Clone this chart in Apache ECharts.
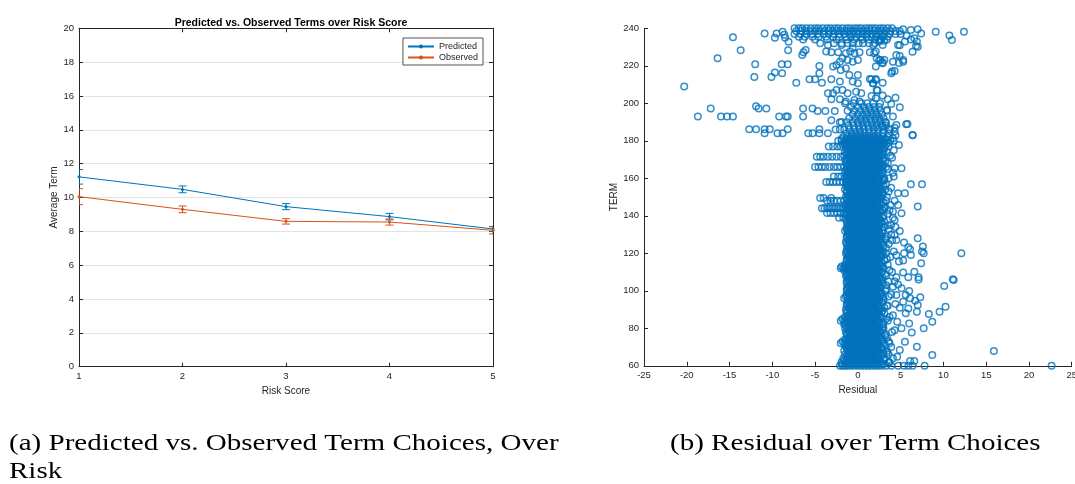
<!DOCTYPE html>
<html>
<head>
<meta charset="utf-8">
<title>Term choices over risk score, and residuals over term</title>
<script src="https://cdn.jsdelivr.net/npm/echarts/dist/echarts.min.js"></script>
<style>
  html, body { margin: 0; padding: 0; background: #fff; }
  #chart { width: 1075px; height: 484px; }
</style>
</head>
<body>
<div id="chart"></div>
<script>
// ---- (a) average term by risk score ----
const riskScores = [1, 2, 3, 4, 5];
const predictedTerm = [11.22, 10.48, 9.46, 8.87, 8.14];
const predictedErr = [0.43, 0.20, 0.18, 0.19, 0.15];
const observedTerm = [10.05, 9.30, 8.59, 8.55, 8.06];
const observedErr = [0.47, 0.20, 0.16, 0.18, 0.21];

// ---- (b) residual vs. TERM ----
// Rows are [TERM, residual, residual, ...] for terms with many loans.
const coreRows = [
  [60, -2.1,-1.8,-1.5,-1.2,-0.8,-0.4,0,0.4,0.8,1.2,1.6,2.0,2.4,2.8,3.3,3.9],
  [62, -1.9,-1.4,-1.0,-0.6,-0.2,0.2,0.6,1.0,1.4,1.8,2.2,2.7,3.6],
  [64, -1.7,-1.2,-0.8,-0.4,0,0.4,0.8,1.2,1.6,2.0,2.4,3.1],
  [66, -1.5,-1.0,-0.6,-0.2,0.2,0.6,1.0,1.4,1.8,2.2,2.9],
  [68, -1.6,-1.2,-0.8,-0.4,0,0.4,0.8,1.2,1.6,2.0,2.4,3.4],
  [70, -1.3,-1.0,-0.6,-0.2,0.2,0.6,1.0,1.4,1.8,2.2,2.7],
  [72, -2.0,-1.6,-1.2,-0.8,-0.4,0,0.4,0.8,1.2,1.6,2.0,2.4,3.0,3.7],
  [74, -1.5,-1.0,-0.6,-0.2,0.2,0.6,1.0,1.4,1.8,2.2,2.8],
  [76, -1.3,-0.8,-0.4,0,0.4,0.8,1.2,1.6,2.0,2.4,3.2],
  [78, -1.4,-1.0,-0.6,-0.2,0.2,0.6,1.0,1.4,1.8,2.2,2.6],
  [80, -1.5,-1.2,-0.8,-0.4,0,0.4,0.8,1.2,1.6,2.0,2.4,3.0],
  [82, -1.6,-1.0,-0.6,-0.2,0.2,0.6,1.0,1.4,1.8,2.2,2.9],
  [84, -2.0,-1.6,-1.2,-0.8,-0.4,0,0.4,0.8,1.2,1.6,2.0,2.4,3.5],
  [86, -1.5,-1.0,-0.6,-0.2,0.2,0.6,1.0,1.4,1.8,2.2,2.7],
  [88, -1.3,-0.8,-0.4,0,0.4,0.8,1.2,1.6,2.0,2.4,3.1],
  [90, -1.4,-1.0,-0.6,-0.2,0.2,0.6,1.0,1.4,1.8,2.2,2.6],
  [92, -1.3,-0.8,-0.4,0,0.4,0.8,1.2,1.6,2.0,2.4,3.4],
  [94, -1.2,-1.0,-0.6,-0.2,0.2,0.6,1.0,1.4,1.8,2.2,2.8],
  [96, -1.6,-1.2,-0.8,-0.4,0,0.4,0.8,1.2,1.6,2.0,2.4,3.0],
  [98, -1.3,-1.0,-0.6,-0.2,0.2,0.6,1.0,1.4,1.8,2.2,2.7],
  [100, -1.3,-0.8,-0.4,0,0.4,0.8,1.2,1.6,2.0,2.4,3.2],
  [102, -1.2,-1.0,-0.6,-0.2,0.2,0.6,1.0,1.4,1.8,2.2,2.6],
  [104, -1.3,-0.8,-0.4,0,0.4,0.8,1.2,1.6,2.0,2.4,2.9],
  [106, -1.2,-1.0,-0.6,-0.2,0.2,0.6,1.0,1.4,1.8,2.2,2.7],
  [108, -1.4,-1.2,-0.8,-0.4,0,0.4,0.8,1.2,1.6,2.0,2.4,3.3],
  [110, -1.3,-1.0,-0.6,-0.2,0.2,0.6,1.0,1.4,1.8,2.2,2.8],
  [112, -2.0,-1.7,-1.4,-1.2,-0.8,-0.4,0,0.4,0.8,1.2,1.6,2.0,2.4,3.0],
  [114, -1.5,-1.0,-0.6,-0.2,0.2,0.6,1.0,1.4,1.8,2.2,2.6],
  [116, -1.3,-0.8,-0.4,0,0.4,0.8,1.2,1.6,2.0,2.4,3.1],
  [118, -1.2,-1.0,-0.6,-0.2,0.2,0.6,1.0,1.4,1.8,2.2,2.7],
  [120, -1.4,-1.2,-0.8,-0.4,0,0.4,0.8,1.2,1.6,2.0,2.4,2.8,3.3],
  [122, -1.3,-1.0,-0.6,-0.2,0.2,0.6,1.0,1.4,1.8,2.2,2.6],
  [124, -1.2,-0.8,-0.4,0,0.4,0.8,1.2,1.6,2.0,2.4,3.0],
  [126, -1.4,-1.0,-0.6,-0.2,0.2,0.6,1.0,1.4,1.8,2.2,2.7],
  [128, -1.3,-0.8,-0.4,0,0.4,0.8,1.2,1.6,2.0,2.4,3.2],
  [130, -1.2,-1.0,-0.6,-0.2,0.2,0.6,1.0,1.4,1.8,2.2,2.6],
  [132, -1.5,-1.2,-0.8,-0.4,0,0.4,0.8,1.2,1.6,2.0,2.4,2.9],
  [134, -1.3,-1.0,-0.6,-0.2,0.2,0.6,1.0,1.4,1.8,2.2,3.1],
  [136, -1.2,-0.8,-0.4,0,0.4,0.8,1.2,1.6,2.0,2.4,2.8],
  [138, -1.4,-1.0,-0.6,-0.2,0.2,0.6,1.0,1.4,1.8,2.2,2.6],
  [139, -2.2,-1.7],
  [140, -1.3,-0.8,-0.4,0,0.4,0.8,1.2,1.6,2.0,2.4,3.0],
  [141.5, -3.6,-3.2,-2.8,-2.4,-2.0,-1.6],
  [142, -1.4,-1.0,-0.6,-0.2,0.2,0.6,1.0,1.4,1.8,2.2,2.7],
  [144, -4.2,-3.9,-3.6,-3.3,-3.0,-2.7,-2.4,-2.1,-1.8,-1.5,-1.2,-0.8,-0.4,0,0.4,0.8,1.2,1.6,2.0,2.4,3.1],
  [146, -1.5,-1.0,-0.6,-0.2,0.2,0.6,1.0,1.4,1.8,2.2,2.8],
  [148, -3.6,-3.2,-2.8,-2.4,-2.0,-1.6,-1.2,-0.8,-0.4,0,0.4,0.8,1.2,1.6,2.0,2.4,3.3],
  [149.5, -4.4,-4.0,-3.1],
  [150, -1.4,-1.0,-0.6,-0.2,0.2,0.6,1.0,1.4,1.8,2.2,2.6],
  [152, -1.3,-0.8,-0.4,0,0.4,0.8,1.2,1.6,2.0,2.4,2.9],
  [154, -1.5,-1.0,-0.6,-0.2,0.2,0.6,1.0,1.4,1.8,2.2,2.7,3.2],
  [156, -1.4,-1.2,-0.8,-0.4,0,0.4,0.8,1.2,1.6,2.0,2.4,3.0],
  [158, -3.7,-3.3,-2.9,-2.5,-2.1,-1.7,-1.4,-1.0,-0.6,-0.2,0.2,0.6,1.0,1.4,1.8,2.2,2.8],
  [160, -1.5,-1.2,-0.8,-0.4,0,0.4,0.8,1.2,1.6,2.0,2.4,3.1],
  [161, -2.8,-2.3,-1.9],
  [162, -1.4,-1.0,-0.6,-0.2,0.2,0.6,1.0,1.4,1.8,2.2,2.7],
  [164, -1.5,-1.2,-0.8,-0.4,0,0.4,0.8,1.2,1.6,2.0,2.4,2.9],
  [166, -5.0,-4.6,-4.2,-3.8,-3.3,-2.8,-2.4,-2.0,-1.6,-1.2,-0.8,-0.4,0,0.4,0.8,1.2,1.6,2.0,2.4,2.8,3.3],
  [168, -1.4,-1.0,-0.6,-0.2,0.2,0.6,1.0,1.4,1.8,2.2,2.6],
  [170, -1.5,-1.2,-0.8,-0.4,0,0.4,0.8,1.2,1.6,2.0,2.4,3.0],
  [171.5, -4.8,-4.4,-4.0,-3.5,-3.0,-2.5,-2.0],
  [172, -1.6,-1.0,-0.6,-0.2,0.2,0.6,1.0,1.4,1.8,2.2,2.7],
  [174, -1.5,-1.2,-0.8,-0.4,0,0.4,0.8,1.2,1.6,2.0,2.4,2.9,3.4],
  [176, -1.4,-1.0,-0.6,-0.2,0.2,0.6,1.0,1.4,1.8,2.2,2.6,3.1],
  [177, -3.4,-2.9,-2.4,-2.0],
  [178, -1.8,-1.5,-1.2,-0.8,-0.4,0,0.4,0.8,1.2,1.6,2.0,2.4,2.8,3.3],
  [180, -2.3,-1.9,-1.5,-1.1,-0.7,-0.3,0.1,0.5,0.9,1.3,1.7,2.1,2.5,2.9,3.3,3.8,4.2],
  [182, -1.7,-1.2,-0.8,-0.4,0,0.4,0.8,1.2,1.6,2.0,2.4,2.9,3.5]
];

// Loans at the in-between terms of the same dense column.
const coreOddRows = [
  [61, -1.9,-1.3,-0.9,-0.5,-0.1,0.3,0.7,1.1,1.5,1.9,2.3,3.0],
  [63, -1.6,-1.1,-0.7,-0.3,0.1,0.5,0.9,1.3,1.7,2.1,2.5],
  [65, -1.3,-0.9,-0.5,-0.1,0.3,0.7,1.1,1.5,1.9,2.3],
  [67, -1.1,-0.7,-0.3,0.1,0.5,0.9,1.3,1.7,2.1,2.5,3.0],
  [69, -1.3,-0.9,-0.5,-0.1,0.3,0.7,1.1,1.5,1.9,2.3],
  [71, -1.5,-1.1,-0.7,-0.3,0.1,0.5,0.9,1.3,1.7,2.1,2.5],
  [73, -1.8,-1.3,-0.9,-0.5,-0.1,0.3,0.7,1.1,1.5,1.9,2.3,2.8],
  [75, -1.1,-0.7,-0.3,0.1,0.5,0.9,1.3,1.7,2.1,2.5],
  [77, -1.3,-0.9,-0.5,-0.1,0.3,0.7,1.1,1.5,1.9,2.3],
  [79, -1.1,-0.7,-0.3,0.1,0.5,0.9,1.3,1.7,2.1,2.5,2.9],
  [81, -1.3,-0.9,-0.5,-0.1,0.3,0.7,1.1,1.5,1.9,2.3],
  [83, -1.5,-1.1,-0.7,-0.3,0.1,0.5,0.9,1.3,1.7,2.1,2.5],
  [85, -1.8,-1.3,-0.9,-0.5,-0.1,0.3,0.7,1.1,1.5,1.9,2.3],
  [87, -1.1,-0.7,-0.3,0.1,0.5,0.9,1.3,1.7,2.1,2.5],
  [89, -1.3,-0.9,-0.5,-0.1,0.3,0.7,1.1,1.5,1.9,2.3,2.8],
  [91, -1.1,-0.7,-0.3,0.1,0.5,0.9,1.3,1.7,2.1,2.5],
  [93, -1.3,-0.9,-0.5,-0.1,0.3,0.7,1.1,1.5,1.9,2.3],
  [95, -1.1,-0.7,-0.3,0.1,0.5,0.9,1.3,1.7,2.1,2.5],
  [97, -1.4,-0.9,-0.5,-0.1,0.3,0.7,1.1,1.5,1.9,2.3,2.9],
  [99, -1.1,-0.7,-0.3,0.1,0.5,0.9,1.3,1.7,2.1,2.5],
  [101, -1.3,-0.9,-0.5,-0.1,0.3,0.7,1.1,1.5,1.9,2.3],
  [103, -1.1,-0.7,-0.3,0.1,0.5,0.9,1.3,1.7,2.1,2.5],
  [105, -1.3,-0.9,-0.5,-0.1,0.3,0.7,1.1,1.5,1.9,2.3,2.8],
  [107, -1.1,-0.7,-0.3,0.1,0.5,0.9,1.3,1.7,2.1,2.5],
  [109, -1.3,-0.9,-0.5,-0.1,0.3,0.7,1.1,1.5,1.9,2.3],
  [111, -1.6,-1.1,-0.7,-0.3,0.1,0.5,0.9,1.3,1.7,2.1,2.5],
  [113, -1.9,-1.5,-0.9,-0.5,-0.1,0.3,0.7,1.1,1.5,1.9,2.3,2.7],
  [115, -1.1,-0.7,-0.3,0.1,0.5,0.9,1.3,1.7,2.1,2.5],
  [117, -1.3,-0.9,-0.5,-0.1,0.3,0.7,1.1,1.5,1.9,2.3],
  [119, -1.1,-0.7,-0.3,0.1,0.5,0.9,1.3,1.7,2.1,2.5,2.9],
  [121, -1.3,-0.9,-0.5,-0.1,0.3,0.7,1.1,1.5,1.9,2.3,2.7],
  [123, -1.1,-0.7,-0.3,0.1,0.5,0.9,1.3,1.7,2.1,2.5],
  [125, -1.3,-0.9,-0.5,-0.1,0.3,0.7,1.1,1.5,1.9,2.3],
  [127, -1.1,-0.7,-0.3,0.1,0.5,0.9,1.3,1.7,2.1,2.5],
  [129, -1.3,-0.9,-0.5,-0.1,0.3,0.7,1.1,1.5,1.9,2.3,2.8],
  [131, -1.1,-0.7,-0.3,0.1,0.5,0.9,1.3,1.7,2.1,2.5],
  [133, -1.3,-0.9,-0.5,-0.1,0.3,0.7,1.1,1.5,1.9,2.3],
  [135, -1.1,-0.7,-0.3,0.1,0.5,0.9,1.3,1.7,2.1,2.5],
  [137, -1.3,-0.9,-0.5,-0.1,0.3,0.7,1.1,1.5,1.9,2.3,2.7],
  [139, -1.1,-0.7,-0.3,0.1,0.5,0.9,1.3,1.7,2.1,2.5],
  [141, -1.3,-0.9,-0.5,-0.1,0.3,0.7,1.1,1.5,1.9,2.3],
  [143, -1.1,-0.7,-0.3,0.1,0.5,0.9,1.3,1.7,2.1,2.5,2.9],
  [145, -1.3,-0.9,-0.5,-0.1,0.3,0.7,1.1,1.5,1.9,2.3],
  [147, -1.1,-0.7,-0.3,0.1,0.5,0.9,1.3,1.7,2.1,2.5],
  [149, -1.3,-0.9,-0.5,-0.1,0.3,0.7,1.1,1.5,1.9,2.3,2.7],
  [151, -1.1,-0.7,-0.3,0.1,0.5,0.9,1.3,1.7,2.1,2.5],
  [153, -1.3,-0.9,-0.5,-0.1,0.3,0.7,1.1,1.5,1.9,2.3,2.8],
  [155, -1.1,-0.7,-0.3,0.1,0.5,0.9,1.3,1.7,2.1,2.5],
  [157, -1.3,-0.9,-0.5,-0.1,0.3,0.7,1.1,1.5,1.9,2.3],
  [159, -1.1,-0.7,-0.3,0.1,0.5,0.9,1.3,1.7,2.1,2.5,3.0],
  [161, -1.3,-0.9,-0.5,-0.1,0.3,0.7,1.1,1.5,1.9,2.3],
  [163, -1.1,-0.7,-0.3,0.1,0.5,0.9,1.3,1.7,2.1,2.5],
  [165, -1.3,-0.9,-0.5,-0.1,0.3,0.7,1.1,1.5,1.9,2.3,2.8],
  [167, -1.1,-0.7,-0.3,0.1,0.5,0.9,1.3,1.7,2.1,2.5],
  [169, -1.3,-0.9,-0.5,-0.1,0.3,0.7,1.1,1.5,1.9,2.3],
  [171, -1.1,-0.7,-0.3,0.1,0.5,0.9,1.3,1.7,2.1,2.5,2.9],
  [173, -1.3,-0.9,-0.5,-0.1,0.3,0.7,1.1,1.5,1.9,2.3],
  [175, -1.1,-0.7,-0.3,0.1,0.5,0.9,1.3,1.7,2.1,2.5,3.0],
  [177.5, -1.3,-0.9,-0.5,-0.1,0.3,0.7,1.1,1.5,1.9,2.3,2.7],
  [179, -1.6,-1.1,-0.7,-0.3,0.1,0.5,0.9,1.3,1.7,2.1,2.5,3.1,3.6],
  [181, -1.9,-1.3,-0.9,-0.5,-0.1,0.3,0.7,1.1,1.5,1.9,2.3,2.7,3.2]
];

// Thinning column just above TERM 180.
const taperRows = [
  [184, -1.3,-0.7,-0.2,0.3,0.8,1.3,1.8,2.3,2.9,3.6],
  [186, -2.6,-2.1,-1.6,-1.0,-0.4,0.2,0.7,1.3,1.9,2.4,3.0,3.7],
  [188, -1.1,-0.5,0.1,0.6,1.2,1.7,2.2,2.8,3.3],
  [190, -1.9,-1.3,-0.6,0,0.5,1.0,1.6,2.1,2.6,3.2],
  [192, -1.0,-0.3,0.3,0.9,1.4,2.0,2.5,3.0],
  [194, -0.6,0,0.6,1.1,1.7,2.2,2.8],
  [196, -1.2,-0.4,0.3,0.9,1.5,2.0,2.6,3.4],
  [198, -0.8,0,0.7,1.3,1.9,2.5],
  [200, -1.5,-0.5,0.4,1.1,1.8,2.6]
];

// Band of loans at the longest terms.
const topBandRows = [
  [240, -7.4,-6.9,-6.5,-6.0,-5.5,-5.0,-4.6,-4.1,-3.6,-3.2,-2.7,-2.3,-1.8,-1.3,-0.9,-0.4,0,0.4,0.9,1.3,1.7,2.1,2.6,3.0,3.5,4.0],
  [238.5, -7.2,-6.6,-6.1,-5.6,-5.0,-4.5,-3.9,-3.4,-2.9,-2.4,-1.9,-1.4,-0.9,-0.5,0,0.5,1.0,1.4,1.9,2.4,2.8,3.3,3.8,4.4,4.9],
  [237, -7.4,-6.7,-6.0,-5.3,-4.7,-4.0,-3.4,-2.8,-2.2,-1.6,-1.0,-0.5,0.1,0.6,1.1,1.6,2.1,2.6,3.1,3.7,4.4,5.0],
  [235.5, -6.9,-6.2,-5.3,-4.6,-3.7,-2.9,-2.2,-1.4,-0.8,-0.2,0.4,1.0,1.6,2.2,2.9,3.5],
  [234, -6.4,-5.0,-3.6,-2.5,-1.3,-0.4,0.5,1.3,2.0,2.7,3.4],
  [232, -4.4,-2.8,-1.9,-1.2,-0.6,0.1,0.6,1.3,2.0]
];

// Looser cloud on the positive side of the dense column, as [residual, TERM].
const rightEdgePoints = [
  [2.8,61],[3.1,63],[2.7,65],[3.4,67],[2.9,69],[3.6,73],[2.8,75],[3.2,77],[4.3,79],[2.9,81],
  [3.3,85],[4.1,87],[2.8,89],[3.1,91],[4.4,93],[3.0,95],[3.6,97],[2.8,99],[3.3,103],[4.3,105],
  [2.9,107],[3.2,109],[3.7,111],[2.8,115],[3.4,117],[4.5,119],[3.0,121],[3.3,123],[2.9,125],[4.0,127],
  [3.4,129],[2.8,131],[3.6,133],[4.4,134],[3.1,137],[2.9,139],[3.5,141],[3.2,145],[4.3,148],[2.9,151],
  [3.6,153],[3.1,159],[4.2,161],[2.9,163],[3.5,165],[3.2,169],[4.0,171],[2.9,173],[3.6,177],[3.0,179]
];

// Individual loans away from the dense rows, as [residual, TERM].
const sparsePoints = [
  [-20.3,208.9],[-18.7,192.9],[-17.2,197.2],[-16.4,224],[-16.0,192.9],[-15.3,192.9],
  [-14.6,192.9],[-14.6,235.2],[-13.7,228.3],[-12.7,186.1],[-12.0,220.8],[-12.1,214],
  [-11.9,186.1],[-11.9,198.4],[-11.6,197.2],[-10.7,197.2],[-10.9,186.1],[-10.9,237.2],
  [-10.3,186.1],[-10.9,184.0],[-10.1,214],[-9.7,216.4],[-9.7,235],[-9.5,237.2],
  [-8.8,238.1],[-8.6,236.6],[-8.5,235],[-8.1,232.8],[-8.9,220.8],[-8.2,220.8],
  [-8.85,216],[-8.15,228.3],[-9.2,192.9],[-8.4,192.9],[-8.2,192.9],[-9.4,184],
  [-8.8,184],[-8.2,186.1],[-7.2,211],[-6.5,225.8],[-6.35,227.2],[-6.1,228.4],
  [-6.4,192.9],[-6.4,197.2],[-5.3,197.2],[-4.7,195.9],[-3.8,195.9],[-2.7,195.9],
  [-5.8,184],[-5.3,184],[-4.5,184],[-3.5,184],[-4.5,186.1],[-3.1,191],[-2.1,189.9],
  [-5.65,212.8],[-5.0,212.8],[-4.5,219.9],[-4.5,216],[-4.2,211],
  [-3.7,227.6],[-3.1,227.2],[-2.3,227.2],[-1.4,226.7],[-0.9,227.6],[-0.4,226.7],
  [0.2,227.2],[1.4,227.2],[1.9,226.7],[-3.5,231.1],[-1.9,231.1],[-0.6,229.3],
  [1.8,231.1],[2.5,232.9],[-1.8,224],[-1.2,223.1],[-0.6,222.2],[0,223.1],
  [-2.9,219.6],[-2.1,222.2],[-2.0,217.8],[-2.5,220.4],[-1.4,218.7],[-1.0,215.1],
  [0,215.1],[-3.1,212.8],[-2.1,211.6],[-0.6,211.6],[0,210.7],[-3.5,205.3],
  [-2.9,205.3],[-2.5,207.1],[-1.8,207.1],[-1.2,205.3],[-0.2,206.2],[0.4,205.3],
  [-3.1,202.1],[-2.1,202.1],[-1.4,200.9],[-0.4,201.8],[0.2,200.9],[1.6,212.8],
  [2.1,212.4],[2.9,211],[1.8,210.7],[2.2,207.1],[1.6,203.9],[2.1,202.7],
  [2.5,223.1],[2.9,221.3],[2.1,219.6],[3.1,223.1],[4.1,222.2],[5.3,222.2],
  [4.9,225.2],[2.5,233.8],[3.1,233.4],[2.9,231.1],[2.1,227.6],[4.7,231.1],
  [1.4,213],[2.1,213],[1.75,210.7],[2.3,206.8],[2.9,204.1],[3.5,202.1],
  [3.9,199.6],[3.4,196.4],[4.1,192.9],[3.3,189.7],[2.9,187.6],[3.7,186.1],
  [4.5,188.4],[4.3,184.9],[3.9,216],[4.3,217.2],[4.4,203],[5.8,189],
  [4.9,197.9],[6.4,183.1],[2.2,224],[2.65,223.1],[2.9,221.7],
  [5.3,239.5],[6.2,239.1],[7.0,239.5],[7.4,237.2],[9.1,238.2],[10.7,236.1],
  [11.0,233.8],[12.4,238.2],[6.2,234],[6.6,234.7],[7.0,230.2],[6.9,233],
  [5.7,236],[4.9,231],[6.8,230.5],[6.4,227.5],[5.5,233],[4.5,225.8],
  [5.3,223.1],[4.8,221.5],[4.0,217],
  [4.3,187],[5.65,188.8],[6.4,183],[4.4,183],[4.1,181.3],[4.8,177.8],
  [5.1,165.3],[4.3,165.3],[6.2,156.8],[7.5,156.8],[5.5,152],[4.7,152],
  [7.0,144.9],[3.8,145.8],[4.7,145.8],[4.1,142.3],[5.1,141.4],[4.3,137.8],
  [3.9,135.1],[4.9,131.9],[4.3,129.8],[4.5,127.1],[7.0,128],[7.6,123.6],
  [7.5,120.9],[7.7,120],[12.1,120],[6.1,122.2],[5.4,125.7],[5.9,123.2],
  [5.4,120],[6.2,119.1],[7.4,114.7],[4.8,115.6],[5.3,116.1],[6.6,110.2],
  [5.9,107.2],[7.1,107.2],[11.1,106.2],[5.3,109.7],[4.5,107.2],
  [11.2,105.7],[10.1,102.5],[10.25,91.5],[9.55,88.8],[8.3,87.6],[8.7,83.5],
  [7.7,80],[15.9,67.9],[22.65,60.05],[8.7,65.7],[6.9,70.2],[6.3,77.8],
  [6.0,82.6],[6.9,88.8],[7.3,96.5],[6.7,94.7],[7.0,92.4],[6.1,96],
  [5.6,97.7],[5.1,101.3],[6.0,99.9],[7.1,106],[7.8,60],[6.4,60],
  [5.9,60],[5.4,60],[4.7,60],[6.6,62.5],[6.1,62.5],[5.5,72.8],
  [4.9,68.4],[5.1,80],[4.6,83.5],[5.6,88],[5.9,90.6],[4.9,91],
  [5.3,94.2],[4.5,97.7],[4.1,102.2],[4.7,103.4],[4.1,64],[4.6,64.8],
  [3.7,61.8],[3.6,66],[3.9,70],[3.4,75],[4.0,78],[3.7,86],[3.5,92],
  [3.9,98],[3.6,105],[4.0,110],[3.5,114],[3.8,118],[4.2,121],[3.6,125],
  [3.9,130],[3.5,135],[4.1,139],[3.7,143],[3.4,150],[3.9,155],[3.6,160],
  [4.1,163],[3.5,168],[3.8,172],[4.2,175],[3.2,71],[3.0,83],[3.3,101],
  [2.9,113],[3.2,127],[3.0,147],[3.3,157],[3.0,167]
];

const BLUE = '#0072BD';
const ORANGE = '#D95319';
const INK = '#262626';
const SANS = '"Liberation Sans", Arial, Helvetica, sans-serif';
const SERIF = '"Liberation Serif", "Times New Roman", serif';

function rowsToPoints(rows) {
  const out = [];
  rows.forEach(function (row) {
    for (let i = 1; i < row.length; i++) out.push([row[i], row[0]]);
  });
  return out;
}

const residualData = rowsToPoints(coreRows)
  .concat(rowsToPoints(coreOddRows))
  .concat(rowsToPoints(taperRows))
  .concat(rowsToPoints(topBandRows))
  .concat(rightEdgePoints)
  .concat(sparsePoints);

function errorData(mean, err) {
  return riskScores.map(function (x, i) { return [x, mean[i] - err[i], mean[i] + err[i]]; });
}

function errorBarRenderer(color) {
  return function (params, api) {
    const x = api.value(0);
    const top = api.coord([x, api.value(2)]);
    const bot = api.coord([x, api.value(1)]);
    const half = 4;
    const style = { stroke: color, lineWidth: 1 };
    return {
      type: 'group',
      children: [
        { type: 'line', shape: { x1: top[0], y1: top[1], x2: bot[0], y2: bot[1] }, style: style },
        { type: 'line', shape: { x1: top[0] - half, y1: top[1], x2: top[0] + half, y2: top[1] }, style: style },
        { type: 'line', shape: { x1: bot[0] - half, y1: bot[1], x2: bot[0] + half, y2: bot[1] }, style: style }
      ]
    };
  };
}

const axisLine = { show: true, onZero: false, lineStyle: { color: INK, width: 1 } };
const tickIn = { show: true, inside: true, length: 4, lineStyle: { color: INK, width: 1 } };
const tickLabel = { color: INK, fontFamily: SANS, fontSize: 9.5, margin: 5 };
const nameStyle = { color: INK, fontFamily: SANS, fontSize: 10 };

const chart = echarts.init(document.getElementById('chart'), null, { renderer: 'canvas' });

chart.setOption({
  animation: false,
  backgroundColor: '#fff',
  title: {
    text: 'Predicted vs. Observed Terms over Risk Score',
    left: 286, top: 13, textAlign: 'center',
    textStyle: { fontFamily: SANS, fontSize: 10.5, fontWeight: 'bold', color: '#000' }
  },
  legend: {
    data: ['Predicted', 'Observed'],
    orient: 'vertical',
    right: 592, top: 38,
    itemWidth: 26, itemHeight: 5, itemGap: 2,
    padding: [4, 5, 3, 4],
    borderColor: INK, borderWidth: 0.8, backgroundColor: '#fff',
    textStyle: { fontFamily: SANS, fontSize: 9, color: INK }
  },
  grid: [
    { left: 79, top: 28.3, width: 414, height: 338.4, containLabel: false, outerBoundsMode: 'none' },
    { left: 644, top: 28.3, width: 427.7, height: 337.5, containLabel: false, outerBoundsMode: 'none' }
  ],
  xAxis: [
    {
      gridIndex: 0, type: 'value', min: 1, max: 5, interval: 1, position: 'bottom',
      name: 'Risk Score', nameLocation: 'middle', nameGap: 19, nameTextStyle: nameStyle,
      axisLine: axisLine, axisTick: tickIn, axisLabel: tickLabel, splitLine: { show: false }
    },
    {
      gridIndex: 0, type: 'value', min: 1, max: 5, interval: 1, position: 'top',
      axisLine: axisLine, axisTick: tickIn, axisLabel: { show: false }, splitLine: { show: false }
    },
    {
      gridIndex: 1, type: 'value', min: -25, max: 25, interval: 5, position: 'bottom',
      name: 'Residual', nameLocation: 'middle', nameGap: 19, nameTextStyle: nameStyle,
      axisLine: axisLine, axisTick: tickIn, axisLabel: tickLabel, splitLine: { show: false }
    }
  ],
  yAxis: [
    {
      gridIndex: 0, type: 'value', min: 0, max: 20, interval: 2, position: 'left',
      name: 'Average Term', nameLocation: 'middle', nameGap: 18, nameTextStyle: nameStyle,
      axisLine: axisLine, axisTick: tickIn, axisLabel: tickLabel,
      splitLine: { show: true, lineStyle: { color: '#e3e3e3', width: 1 } }
    },
    {
      gridIndex: 0, type: 'value', min: 0, max: 20, interval: 2, position: 'right',
      axisLine: axisLine, axisTick: tickIn, axisLabel: { show: false }, splitLine: { show: false }
    },
    {
      gridIndex: 1, type: 'value', min: 60, max: 240, interval: 20, position: 'left',
      name: 'TERM', nameLocation: 'middle', nameGap: 25, nameTextStyle: nameStyle,
      axisLine: axisLine, axisTick: tickIn, axisLabel: tickLabel, splitLine: { show: false }
    }
  ],
  series: [
    {
      name: 'Predicted', type: 'line', xAxisIndex: 0, yAxisIndex: 0,
      data: riskScores.map(function (x, i) { return [x, predictedTerm[i]]; }),
      symbol: 'circle', symbolSize: 3, showSymbol: true,
      lineStyle: { color: BLUE, width: 1 }, itemStyle: { color: BLUE }, z: 3
    },
    {
      name: 'Observed', type: 'line', xAxisIndex: 0, yAxisIndex: 0,
      data: riskScores.map(function (x, i) { return [x, observedTerm[i]]; }),
      symbol: 'circle', symbolSize: 3, showSymbol: true,
      lineStyle: { color: ORANGE, width: 1 }, itemStyle: { color: ORANGE }, z: 3
    },
    {
      name: 'Predicted error', type: 'custom', xAxisIndex: 0, yAxisIndex: 0, clip: true,
      renderItem: errorBarRenderer(BLUE), data: errorData(predictedTerm, predictedErr), z: 4
    },
    {
      name: 'Observed error', type: 'custom', xAxisIndex: 0, yAxisIndex: 0, clip: true,
      renderItem: errorBarRenderer(ORANGE), data: errorData(observedTerm, observedErr), z: 4
    },
    {
      name: 'Residual', type: 'scatter', xAxisIndex: 2, yAxisIndex: 2,
      data: residualData, symbol: 'circle', symbolSize: 6.5, clip: false,
      large: false, progressive: 0,
      itemStyle: { color: 'rgba(0,0,0,0)', borderColor: BLUE, borderWidth: 1.5 },
      emphasis: { disabled: true }, silent: true
    }
  ],
  graphic: [
    { type: 'text', x: 9, y: 443.5, scaleX: 1.21,
      style: { text: '(a) Predicted vs. Observed Term Choices, Over', font: '24px ' + SERIF, fill: '#000', verticalAlign: 'middle' } },
    { type: 'text', x: 9, y: 472, scaleX: 1.21,
      style: { text: 'Risk', font: '24px ' + SERIF, fill: '#000', verticalAlign: 'middle' } },
    { type: 'text', x: 670, y: 443.5, scaleX: 1.21,
      style: { text: '(b) Residual over Term Choices', font: '24px ' + SERIF, fill: '#000', verticalAlign: 'middle' } }
  ]
});
</script>
</body>
</html>
